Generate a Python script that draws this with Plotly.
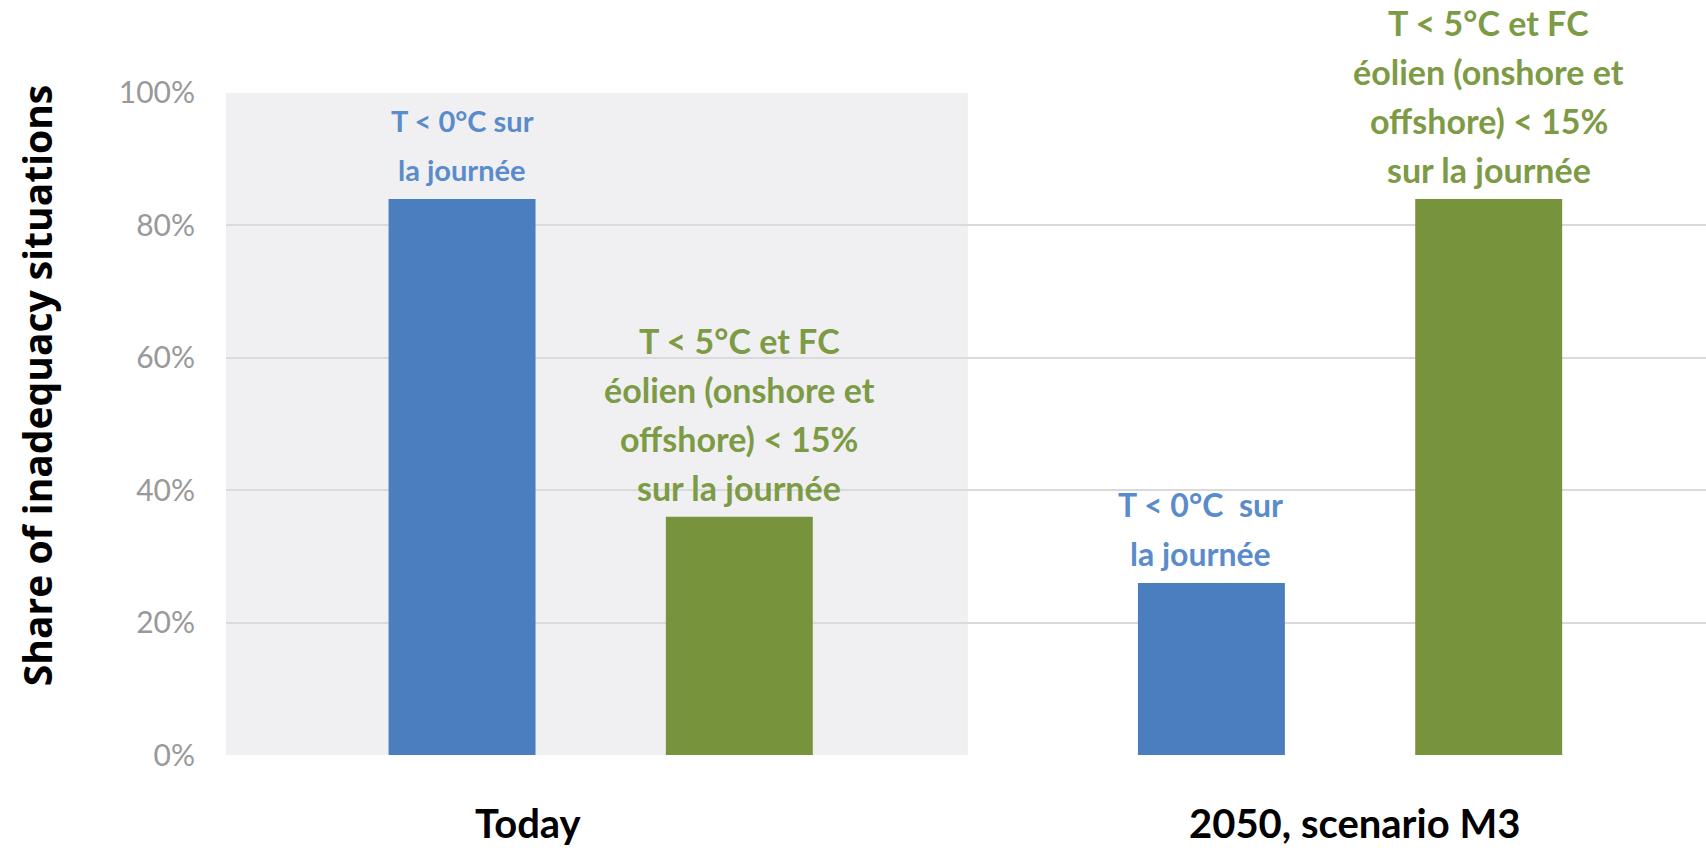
import plotly.graph_objects as go

# Categories and series values (share of inadequacy situations, %)
categories = ["Today", "2050, scenario M3"]
series_names = ["T < 0°C", "T < 5°C et FC éolien < 15%"]
cold_values = [84, 26]
wind_values = [36, 84]

# Text drawn above each bar, one list of lines per bar
cold_labels = [
    ["T < 0°C sur", "la journée"],
    ["T < 0°C  sur", "la journée"],
]
wind_labels = [
    ["T < 5°C et FC", "éolien (onshore et", "offshore) < 15%", "sur la journée"],
    ["T < 5°C et FC", "éolien (onshore et", "offshore) < 15%", "sur la journée"],
]

tick_values = [0, 20, 40, 60, 80, 100]
tick_labels = ["0%", "20%", "40%", "60%", "80%", "100%"]
y_title = "Share of inadequacy situations"

BLUE = "#4a7ebf"
GREEN = "#77933c"
BLUE_TXT = "#5a8bcb"
GREEN_TXT = "#7d9a45"

BARGAP = 0.26
BARGROUPGAP = 0.47
slot = (1 - BARGAP) / 2
offsets = [-slot / 2, slot / 2]

Y_RANGE = [-0.15, 100.15]


def to_paper(v):
    return (v - Y_RANGE[0]) / (Y_RANGE[1] - Y_RANGE[0])


x = list(range(len(categories)))

fig = go.Figure()
fig.add_trace(go.Bar(x=x, y=cold_values, name=series_names[0],
                     marker=dict(color=BLUE, line=dict(width=0))))
fig.add_trace(go.Bar(x=x, y=wind_values, name=series_names[1],
                     marker=dict(color=GREEN, line=dict(width=0))))

annotations = []
LABEL_FONT = "Lato, 'Open Sans', sans-serif"
LINE_BASE = 4.4
LINE_STEP = 7.4


def add_bar_text(xc, top, lines, color, size, dx=0.0):
    n = len(lines)
    for i, line in enumerate(lines):
        annotations.append(dict(
            x=xc + dx, y=to_paper(top + LINE_BASE + (n - 1 - i) * LINE_STEP),
            xref="x", yref="paper", text=line, showarrow=False,
            xanchor="center", yanchor="middle",
            font=dict(family=LABEL_FONT, size=size, color=color, weight="bold"),
        ))


cold_sizes = [29, 32]
for i in x:
    add_bar_text(i + offsets[0], cold_values[i], cold_labels[i], BLUE_TXT,
                 cold_sizes[i], dx=-0.015 if i == 1 else 0.0)
    add_bar_text(i + offsets[1], wind_values[i], wind_labels[i], GREEN_TXT, 34)

# Category labels below the plot
cat_dx = [-0.096, 0.006]
for i, name in enumerate(categories):
    annotations.append(dict(
        x=i + cat_dx[i], y=0, xref="x", yref="paper", yshift=-67,
        text=f"<b>{name}</b>", showarrow=False, xanchor="center", yanchor="middle",
        font=dict(family=LABEL_FONT, size=40, color="#000000"),
    ))

# Vertical axis title
annotations.append(dict(
    x=0, y=0.557, xref="paper", yref="paper", xshift=-190,
    text=f"<b>{y_title}</b>", showarrow=False, textangle=-90,
    xanchor="center", yanchor="middle",
    font=dict(family="'Open Sans', sans-serif", size=39, color="#000000"),
))

fig.update_layout(
    width=1706, height=851,
    margin=dict(l=226, r=0, t=92, b=95),
    paper_bgcolor="white", plot_bgcolor="white",
    barmode="group", bargap=BARGAP, bargroupgap=BARGROUPGAP,
    showlegend=False,
    annotations=annotations,
    shapes=[dict(type="rect", xref="x", yref="y", x0=-0.5, x1=0.49, y0=0, y1=100,
                 fillcolor="rgba(60,60,90,0.08)", line=dict(width=0), layer="below")],
    xaxis=dict(range=[-0.5, 1.475], showticklabels=False, showgrid=False,
               zeroline=False, showline=False, ticks=""),
    yaxis=dict(range=Y_RANGE, tickvals=tick_values, ticktext=tick_labels,
               showgrid=True, gridcolor="#dadada", gridwidth=1.5,
               zeroline=False, showline=False, ticks="",
               ticklabelstandoff=30,
               tickfont=dict(family=LABEL_FONT, size=30, color="#999999")),
)

fig.write_html("out.html")
